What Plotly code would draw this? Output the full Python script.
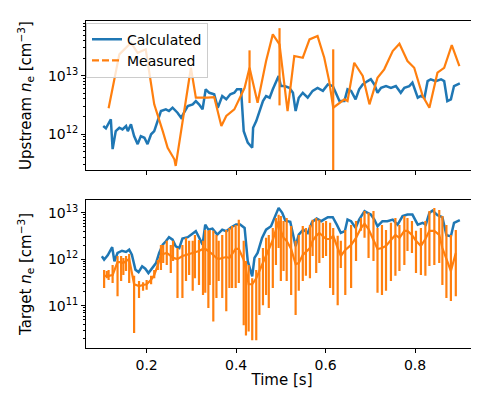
import plotly.graph_objects as go
from plotly.subplots import make_subplots

BLUE = "#1f77b4"
ORANGE = "#ff7f0e"

# upstream density, calculated
up_calc_t = [0.103, 0.109, 0.120, 0.124, 0.131, 0.139, 0.146, 0.154, 0.158, 0.165,
             0.172, 0.180, 0.187, 0.195, 0.202, 0.210, 0.217, 0.225, 0.232, 0.243,
             0.250, 0.258, 0.269, 0.277, 0.284, 0.292, 0.303, 0.310, 0.317, 0.325,
             0.332, 0.340, 0.351, 0.359, 0.369, 0.378, 0.387, 0.396, 0.402, 0.411,
             0.417, 0.426, 0.436, 0.438, 0.445, 0.452, 0.460, 0.467, 0.475, 0.482,
             0.489, 0.495, 0.500, 0.508, 0.519, 0.527, 0.533, 0.540, 0.549, 0.560,
             0.571, 0.582, 0.594, 0.605, 0.616, 0.625, 0.631, 0.642, 0.649, 0.657,
             0.667, 0.675, 0.683, 0.694, 0.701, 0.709, 0.716, 0.724, 0.735, 0.746,
             0.757, 0.768, 0.776, 0.787, 0.794, 0.806, 0.813, 0.821, 0.828, 0.835,
             0.846, 0.858, 0.865, 0.872, 0.880, 0.887, 0.900]
up_calc_ne = [1.37e12, 1.25e12, 1.79e12, 5.5e11, 1.12e12, 1.28e12, 1.2e12, 1.37e12, 1.12e12, 1.47e12,
              9.2e11, 6.7e11, 9.2e11, 8.6e11, 6.7e11, 9.9e11, 1.12e12, 1.67e12, 2.48e12, 2.65e12,
              2.48e12, 2.83e12, 2.32e12, 1.9e12, 2.32e12, 3.02e12, 3.23e12, 3.68e12, 3.23e12, 2.65e12,
              5.85e12, 5.1e12, 4.8e12, 2.83e12, 4.49e12, 3.94e12, 4.8e12, 5.1e12, 5.85e12, 5.85e12,
              1.12e12, 7.1e11, 5.8e11, 1.28e12, 1.67e12, 2.48e12, 3.68e12, 4.49e12, 4.2e12, 5.85e12,
              7.6e12, 9.9e12, 6.65e12, 6.65e12, 6.2e12, 5.1e12, 2.48e12, 4.2e12, 5.1e12, 4.2e12,
              5.5e12, 6.2e12, 5.5e12, 7.1e12, 6.65e12, 4.49e12, 3.68e12, 3.68e12, 5.85e12, 5.5e12,
              3.94e12, 5.85e12, 7.1e12, 8.1e12, 8.7e12, 7.1e12, 5.1e12, 6.2e12, 6.65e12, 6.2e12,
              6.65e12, 5.1e12, 6.2e12, 6.65e12, 7.6e12, 4.2e12, 4.49e12, 4.2e12, 8.1e12, 8.7e12,
              8.1e12, 8.7e12, 8.1e12, 3.68e12, 3.94e12, 6.65e12, 7.4e12]

# upstream density, measured
up_meas_t = [0.115, 0.139, 0.165, 0.180, 0.198, 0.217, 0.236, 0.247, 0.262, 0.265,
             0.299, 0.310, 0.336, 0.351, 0.367, 0.378, 0.396, 0.419, 0.430, 0.448,
             0.467, 0.482, 0.497, 0.515, 0.530, 0.549, 0.564, 0.582, 0.597, 0.608,
             0.617, 0.631, 0.642, 0.649, 0.664, 0.683, 0.698, 0.716, 0.731, 0.750,
             0.765, 0.783, 0.798, 0.817, 0.832, 0.850, 0.865, 0.882, 0.899]
up_meas_ne = [2.76e12, 2.33e13, 3.68e13, 2.48e13, 2.84e13, 3.23e12, 1.12e12, 5.8e11, 3.68e11, 2.83e11,
              1.37e13, 4.2e12, 4.2e12, 4.3e12, 1.37e12, 2.04e12, 2.65e12, 6.2e12, 1.37e13, 3.44e12,
              1.79e13, 5.13e13, 3.46e13, 2.48e12, 2.18e13, 2.04e13, 4.21e13, 4.8e13, 2.04e13, 8.1e12,
              2.83e12, 3.44e12, 3.94e12, 3.68e12, 1.67e13, 9.9e12, 3.23e12, 9.2e12, 1.29e13, 2.65e13,
              3.54e13, 1.79e13, 1.37e13, 4.49e12, 2.83e12, 1.13e13, 1.37e13, 3.36e13, 1.47e13]
up_meas_err_plus = [0] * 18 + [1.36e13] + [0] * 3 + [3.1e13] + [0] * 7 + [2.56e13] + [0] * 18
up_meas_err_minus = [0] * 18 + [1.03e13] + [0] * 3 + [3.15e13] + [0] * 7 + [2.73e12] + [0] * 18

# target density, calculated
tgt_calc_t = [0.100, 0.105, 0.113, 0.123, 0.128, 0.135, 0.145, 0.154, 0.161, 0.167,
              0.175, 0.182, 0.190, 0.197, 0.204, 0.213, 0.221, 0.228, 0.236, 0.243,
              0.250, 0.258, 0.265, 0.273, 0.280, 0.292, 0.299, 0.310, 0.317, 0.325,
              0.331, 0.338, 0.347, 0.358, 0.369, 0.378, 0.389, 0.400, 0.409, 0.419,
              0.426, 0.436, 0.441, 0.448, 0.458, 0.467, 0.478, 0.488, 0.495, 0.503,
              0.510, 0.521, 0.533, 0.540, 0.550, 0.560, 0.570, 0.580, 0.590, 0.605,
              0.616, 0.625, 0.634, 0.643, 0.649, 0.657, 0.667, 0.675, 0.687, 0.694,
              0.701, 0.709, 0.716, 0.727, 0.738, 0.750, 0.761, 0.772, 0.783, 0.794,
              0.806, 0.817, 0.824, 0.832, 0.839, 0.850, 0.861, 0.870, 0.880, 0.887,
              0.900]
tgt_calc_ne = [1.16e12, 9.8e11, 1.22e12, 1.82e12, 9.1e11, 1.37e12, 1.53e12, 1.44e12, 1.61e12, 1.26e12,
               5.96e11, 5.3e11, 7.06e11, 6.27e11, 5.06e11, 6.5e11, 8.3e11, 1.37e12, 2.07e12, 2.45e12,
               2.99e12, 2.65e12, 1.91e12, 1.75e12, 2.79e12, 2.99e12, 3.4e12, 4.03e12, 2.99e12, 2.07e12,
               5.59e12, 4.36e12, 4.58e12, 3.4e12, 4.36e12, 4.03e12, 4.91e12, 5.59e12, 5.59e12, 4.74e12,
               9.1e11, 4.3e11, 1.07e12, 1.37e12, 2.88e12, 4.36e12, 5.16e12, 8.5e12, 1.28e13, 1e13,
               6.82e12, 6.4e12, 1.91e12, 3.4e12, 4.36e12, 3.7e12, 6.4e12, 7.53e12, 6.62e12, 8.07e12,
               8.07e12, 5.59e12, 3.7e12, 4.03e12, 7.17e12, 6.62e12, 4.74e12, 7.17e12, 1.09e13, 1e13,
               9.2e12, 7.17e12, 5.16e12, 6.62e12, 6.62e12, 7.17e12, 5.59e12, 8.5e12, 9.2e12, 9.2e12,
               5.59e12, 6.08e12, 5.59e12, 1e13, 1.12e13, 8.9e12, 8.07e12, 3.3e12, 3.14e12, 6.08e12,
               6.95e12]

# target density, measured (value with upper / lower end of its bar)
tgt_meas_t = [0.105, 0.111, 0.115, 0.124, 0.135, 0.143, 0.148, 0.154, 0.161, 0.172,
              0.183, 0.192, 0.200, 0.210, 0.217, 0.225, 0.232, 0.237, 0.245, 0.254,
              0.259, 0.269, 0.280, 0.288, 0.295, 0.303, 0.308, 0.317, 0.326, 0.331,
              0.338, 0.341, 0.349, 0.356, 0.361, 0.369, 0.378, 0.385, 0.391, 0.399,
              0.406, 0.417, 0.422, 0.428, 0.436, 0.445, 0.452, 0.460, 0.467, 0.473,
              0.482, 0.489, 0.495, 0.500, 0.506, 0.513, 0.523, 0.533, 0.540, 0.549,
              0.556, 0.565, 0.571, 0.579, 0.586, 0.594, 0.601, 0.610, 0.617, 0.627,
              0.634, 0.644, 0.657, 0.668, 0.679, 0.687, 0.696, 0.707, 0.716, 0.726,
              0.735, 0.746, 0.756, 0.765, 0.776, 0.783, 0.793, 0.802, 0.813, 0.823,
              0.832, 0.843, 0.854, 0.861, 0.870, 0.880, 0.891]
tgt_meas_ne = [4.4e11, 4.4e11, 4.4e11, 4.6e11, 8.7e11, 8.7e11, 8.3e11, 9.2e11, 1.01e12, 2.9e11,
               2.65e11, 2.8e11, 2.9e11, 3.6e11, 4.6e11, 7.5e11, 1.24e12, 1.3e12, 1.37e12, 1.18e12,
               1.07e12, 1.01e12, 1.18e12, 1.24e12, 1.3e12, 1.37e12, 1.44e12, 1.51e12, 1.67e12, 1.67e12,
               1.51e12, 1.44e12, 1.24e12, 1.07e12, 1.01e12, 1.07e12, 1.12e12, 1.07e12, 1.3e12, 1.67e12,
               1.67e12, 9.7e11, 5.9e11, 2.9e11, 2.9e11, 3.9e11, 5.6e11, 8.3e11, 1.18e12, 1.67e12,
               2.6e12, 4.3e12, 6.7e12, 4.1e12, 2.9e12, 2.5e12, 1.67e12, 7.9e11, 8.3e11, 1.24e12,
               1.44e12, 1.75e12, 2.5e12, 3.2e12, 3.7e12, 3.2e12, 2.74e12, 2.74e12, 3.2e12, 1.75e12,
               1.18e12, 1.59e12, 2.04e12, 2.9e12, 4.7e12, 5.8e12, 4.5e12, 2.6e12, 1.67e12, 1.75e12,
               1.94e12, 2.6e12, 3.35e12, 2.9e12, 4.1e12, 4.1e12, 3.35e12, 2.5e12, 1.94e12, 2.74e12,
               4.1e12, 4.1e12, 3.35e12, 1.75e12, 1.01e12, 5.6e11, 1.37e12]
tgt_meas_hi = [5.9e11, 5.6e11, 5.9e11, 7.5e11, 1.18e12, 1.18e12, 1.07e12, 1.18e12, 1.3e12, 4.4e11,
               3.4e11, 3.2e11, 3.6e11, 4.4e11, 5.9e11, 9.7e11, 2.04e12, 2.04e12, 2.5e12, 2.04e12,
               2.5e12, 1.75e12, 2.04e12, 2.9e12, 2.5e12, 2.5e12, 3.35e12, 2.6e12, 2.5e12, 4.3e12,
               4.1e12, 4.3e12, 4.1e12, 3.35e12, 2.5e12, 3.35e12, 4.3e12, 4.7e12, 5.2e12, 5.5e12,
               7.1e12, 2.5e12, 9.2e11, 7.5e11, 3.9e11, 5.9e11, 1.07e12, 1.75e12, 2.9e12, 3.35e12,
               4.7e12, 7.8e12, 9.1e12, 8.6e12, 6.7e12, 7.8e12, 5.2e12, 2.5e12, 3.35e12, 5.2e12,
               4.7e12, 5.5e12, 7.1e12, 7.8e12, 7.1e12, 6.1e12, 6.7e12, 6.1e12, 4.7e12, 3.2e12,
               2.5e12, 4.3e12, 5.5e12, 6.7e12, 7.8e12, 1.1e13, 1.0e13, 1.1e13, 4.7e12, 5.5e12,
               4.3e12, 6.1e12, 7.8e12, 5.5e12, 8.6e12, 7.8e12, 6.7e12, 4.1e12, 4.7e12, 6.7e12,
               1.1e13, 1.28e13, 1.16e13, 8.6e12, 5.5e12, 3.35e12, 4.3e12]
tgt_meas_lo = [2.4e11, 3.9e11, 3.6e11, 3.1e11, 1.6e11, 3.4e11, 4.6e11, 5.6e11, 3.1e11, 2.6e10,
               1.46e11, 2.1e11, 2.2e11, 2.9e11, 3.9e11, 5.9e11, 5.9e11, 8.3e11, 7.5e11, 5.1e11,
               9.2e11, 1.46e11, 1.46e11, 3.4e11, 4.6e11, 2.1e11, 3.9e11, 2.8e11, 1.7e11, 1.9e11,
               8.9e10, 2.8e11, 4.6e10, 1.46e11, 3.4e11, 1.46e11, 7.6e10, 2.4e11, 2.4e11, 2.4e11,
               3.1e11, 3.8e10, 2.3e10, 2.8e10, 1.8e10, 1.8e10, 6.3e10, 1.03e11, 1.7e11, 8.9e10,
               2.4e11, 7.5e11, 1.75e12, 3.4e11, 5.6e11, 3.4e11, 1.7e11, 6.3e10, 2.1e11, 3.4e11,
               4.4e11, 3.9e11, 1.18e12, 5.1e11, 8.3e11, 1.07e12, 1.18e12, 2.4e11, 1.7e11, 1.03e11,
               6.5e11, 1.7e11, 2.4e11, 9.2e11, 4.1e12, 2.9e12, 1.07e12, 9.2e11, 1.9e11, 1.7e11,
               2.1e11, 3.4e11, 4.4e11, 5.6e11, 7.5e11, 1.51e12, 1.37e12, 5.1e11, 4.6e11, 4.4e11,
               7.2e11, 7.5e11, 8.3e11, 2.8e11, 1.46e11, 1.26e11, 1.6e11]

x_ticks = [0.2, 0.4, 0.6, 0.8]


def minor_vals(lo_exp, hi_exp):
    return [m * 10 ** e for e in range(lo_exp, hi_exp) for m in range(2, 10)]


fig = make_subplots(rows=2, cols=1, shared_xaxes=True)

fig.add_trace(go.Scatter(x=up_calc_t, y=up_calc_ne, mode="lines", name="Calculated",
                         line=dict(color=BLUE, width=2.5)), row=1, col=1)
fig.add_trace(go.Scatter(x=up_meas_t, y=up_meas_ne, mode="lines", showlegend=False,
                         line=dict(color=ORANGE, width=2.2),
                         error_y=dict(type="data", symmetric=False, array=up_meas_err_plus,
                                      arrayminus=up_meas_err_minus, color=ORANGE,
                                      thickness=2.2, width=0)), row=1, col=1)
# legend handle for the measured series is drawn dashed
fig.add_trace(go.Scatter(x=[None], y=[None], mode="lines", name="Measured",
                         line=dict(color=ORANGE, width=2.2, dash="7px,3px")), row=1, col=1)

fig.add_trace(go.Scatter(x=tgt_calc_t, y=tgt_calc_ne, mode="lines", showlegend=False,
                         line=dict(color=BLUE, width=2.5)), row=2, col=1)
fig.add_trace(go.Scatter(x=tgt_meas_t, y=tgt_meas_ne, mode="lines", showlegend=False,
                         line=dict(color=ORANGE, width=2.2),
                         error_y=dict(type="data", symmetric=False,
                                      array=[h - v for h, v in zip(tgt_meas_hi, tgt_meas_ne)],
                                      arrayminus=[v - l for v, l in zip(tgt_meas_ne, tgt_meas_lo)],
                                      color=ORANGE, thickness=2.2, width=0)), row=2, col=1)

axis_style = dict(showline=True, mirror=True, linecolor="black", linewidth=1,
                  showgrid=False, zeroline=False, ticks="outside", ticklen=4,
                  tickcolor="black", tickfont=dict(size=14))

fig.update_xaxes(**axis_style, range=[0.0645, 0.9406], tickvals=x_ticks)
fig.update_xaxes(showticklabels=False, row=1, col=1)
fig.update_xaxes(ticktext=["0.2", "0.4", "0.6", "0.8"],
                 title=dict(text="Time [s]", font=dict(size=15), standoff=2),
                 row=2, col=1)

fig.update_yaxes(**axis_style)
fig.update_yaxes(type="log", range=[11.38, 13.94], domain=[0.544, 1],
                 tickvals=[1e12, 1e13], ticktext=["10<sup>12</sup>", "10<sup>13</sup>"],
                 minor=dict(ticks="outside", ticklen=2, tickcolor="black", tickvals=minor_vals(11, 14)),
                 title=dict(text="Upstream <i>n</i><sub>e</sub> [cm<sup>\u22123</sup>]",
                            font=dict(size=15), standoff=12),
                 row=1, col=1)
fig.update_yaxes(type="log", range=[10.09, 13.28], domain=[0, 0.453],
                 tickvals=[1e11, 1e12, 1e13],
                 ticktext=["10<sup>11</sup>", "10<sup>12</sup>", "10<sup>13</sup>"],
                 minor=dict(ticks="outside", ticklen=2, tickcolor="black", tickvals=minor_vals(10, 14)),
                 title=dict(text="Target <i>n</i><sub>e</sub> [cm<sup>\u22123</sup>]",
                            font=dict(size=15), standoff=12),
                 row=2, col=1)

fig.update_layout(
    width=479, height=393,
    margin=dict(l=78, r=9, t=13, b=53),
    plot_bgcolor="white", paper_bgcolor="white",
    font=dict(family="DejaVu Sans", size=14, color="black"),
    legend=dict(x=0.0, y=0.995, xanchor="left", yanchor="top",
                bgcolor="rgba(255,255,255,0.8)", bordercolor="#cccccc", borderwidth=1,
                font=dict(size=14), tracegroupgap=0, itemwidth=30),
)

fig.write_html("out.html")
